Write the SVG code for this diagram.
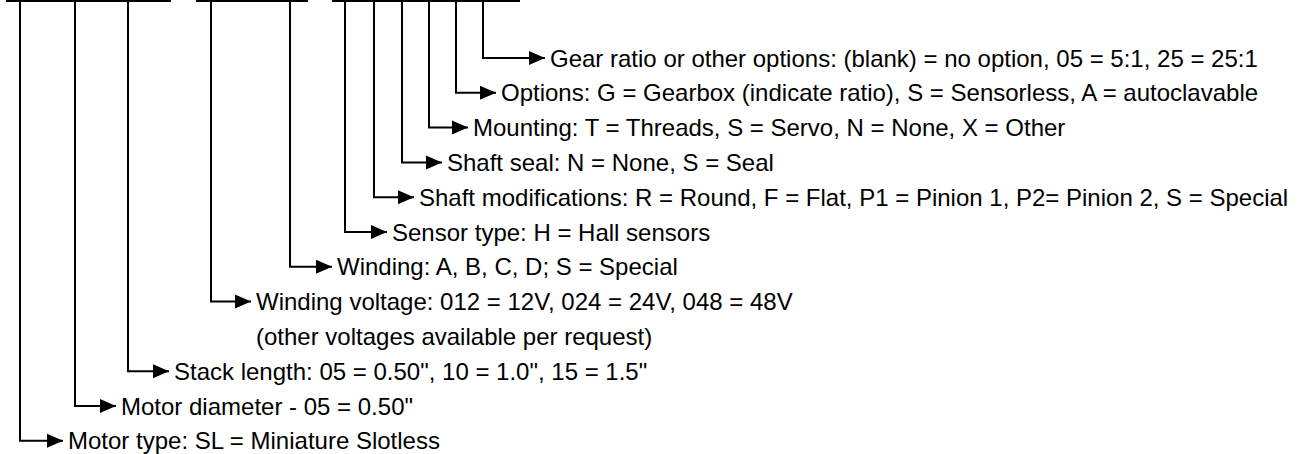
<svg xmlns="http://www.w3.org/2000/svg" width="1309" height="454" viewBox="0 0 1309 454">
<style>
.lbl{font-family:"Liberation Sans",Arial,sans-serif;font-size:24px;fill:#000}
.bar{stroke:#000;stroke-width:2;fill:none}
.con{stroke:#000;stroke-width:2;fill:none;marker-end:url(#ah)}
</style>
<defs>
<marker id="ah" markerUnits="userSpaceOnUse" markerWidth="18" markerHeight="16" refX="17" refY="8" orient="auto" viewBox="0 0 18 16">
<path d="M1,1 L17,8 L1,15 Z" fill="#000"/>
</marker>
</defs>
<rect width="1309" height="454" fill="#fff"/>
<g id="code-bars">
<line class="bar" x1="6" y1="1" x2="171" y2="1"/>
<line class="bar" x1="196" y1="1" x2="308" y2="1"/>
<line class="bar" x1="332" y1="1" x2="520" y2="1"/>
</g>
<g id="connectors">
<path class="con" d="M20,0 V440.8 H63"/>
<path class="con" d="M75,0 V406 H116"/>
<path class="con" d="M128,0 V371.2 H169"/>
<path class="con" d="M211,0 V301.6 H251"/>
<path class="con" d="M290,0 V266.8 H332"/>
<path class="con" d="M345,0 V232 H387"/>
<path class="con" d="M374,0 V197.2 H414"/>
<path class="con" d="M402,0 V162.4 H442"/>
<path class="con" d="M429,0 V127.6 H468"/>
<path class="con" d="M456,0 V92.8 H496"/>
<path class="con" d="M483,0 V58 H545"/>
</g>
<g id="gear"><text class="lbl" x="550" y="66.5">Gear ratio or other options: (blank) = no option, 05 = 5:1, 25 = 25:1</text></g>
<g id="options"><text class="lbl" x="501" y="101.3">Options: G = Gearbox (indicate ratio), S = Sensorless, A = autoclavable</text></g>
<g id="mounting"><text class="lbl" x="473" y="136.1">Mounting: T = Threads, S = Servo, N = None, X = Other</text></g>
<g id="shaft-seal"><text class="lbl" x="447" y="170.9">Shaft seal: N = None, S = Seal</text></g>
<g id="shaft-mod"><text class="lbl" x="419" y="205.7">Shaft modifications: R = Round, F = Flat, P1 = Pinion 1, P2= Pinion 2, S = Special</text></g>
<g id="sensor"><text class="lbl" x="392" y="240.5">Sensor type: H = Hall sensors</text></g>
<g id="winding"><text class="lbl" x="337" y="275.3">Winding: A, B, C, D; S = Special</text></g>
<g id="winding-voltage">
<text class="lbl" x="256" y="310.1">Winding voltage: 012 = 12V, 024 = 24V, 048 = 48V</text>
<text class="lbl" x="256" y="344.9">(other voltages available per request)</text>
</g>
<g id="stack"><text class="lbl" x="174" y="379.7">Stack length: 05 = 0.50", 10 = 1.0", 15 = 1.5"</text></g>
<g id="diameter"><text class="lbl" x="121" y="414.5">Motor diameter - 05 = 0.50"</text></g>
<g id="type"><text class="lbl" x="68" y="449.3">Motor type: SL = Miniature Slotless</text></g>
</svg>
